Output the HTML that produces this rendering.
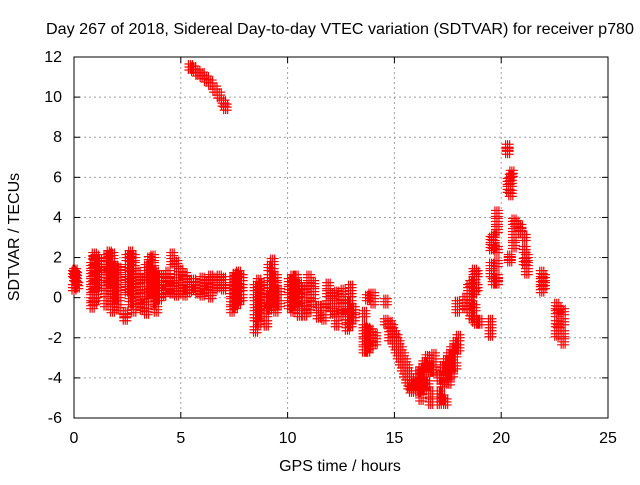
<!DOCTYPE html>
<html><head><meta charset="utf-8"><style>
body{margin:0;background:#fff}
svg text{font-family:"Liberation Sans",sans-serif;font-size:16px;fill:#000}
</style></head><body>
<svg id="chart" width="640" height="480" viewBox="0 0 640 480" xmlns="http://www.w3.org/2000/svg">
<text x="340" y="34" text-anchor="middle" textLength="588" lengthAdjust="spacingAndGlyphs">Day 267 of 2018, Sidereal Day-to-day VTEC variation (SDTVAR) for receiver p780</text>
<text x="340" y="471" text-anchor="middle">GPS time / hours</text>
<text x="19" y="237" text-anchor="middle" transform="rotate(-90 19 237)">SDTVAR / TECUs</text>
<g id="grid"></g>
<g id="axes"></g>
<g id="points"></g>
</svg>
<script>
const xTicks=[0,5,10,15,20,25];
const yTicks=[-6,-4,-2,0,2,4,6,8,10,12];
const columnTimes=[0,0.05,0.1,0.15,
0.85,0.95,1.05,1.2,1.5,1.65,1.8,1.95,2.1,2.4,
2.5,2.65,2.8,3.0,3.2,3.4,3.55,3.7,3.85,4.0,
4.2,4.4,4.6,4.8,5.0,5.2,5.4,5.6,5.8,6.0,6.2,6.4,6.6,6.8,7.0,
7.4,7.55,7.7,7.85,
5.45,5.6,5.8,6.0,6.2,6.4,6.6,6.8,7.0,7.1,
8.5,8.65,8.8,9.0,9.15,9.3,9.45,9.6,
10.1,10.25,10.4,10.55,10.8,11.0,11.2,11.45,
11.7,11.9,12.1,12.3,12.5,12.6,12.8,12.95,13.1,
13.6,13.75,13.9,14.0,14.1,
14.6,14.8,14.9,15.0,15.1,15.2,15.3,15.4,15.5,15.6,15.7,15.8,15.9,
16.1,16.25,16.4,16.55,16.7,16.85,
17.1,17.25,17.4,17.55,17.7,17.85,18.0,17.95,
18.3,18.5,18.6,18.75,18.85,19.0,19.5,
19.55,19.65,19.8,
20.3,20.35,20.45,20.5,20.4,
20.6,20.7,20.9,21.1,21.2,
21.9,22.0,
22.6,22.7,22.9];
const columnValues=[[1.2,0.5],[1.0,1.3],[0.8,1.1],[0.6],
[-0.4,0,0.4,0.8,1.2,1.6],[-0.2,0.3,0.7,1.1,1.5,1.9,2.1],[0,0.5,0.9,1.3,1.7,2.0],[0.6,1.0,1.4,1.8],[-0.3,0.2,0.6,1.0,1.5,2.0],[0.8,1.3,1.8,2.2],[-0.6,-0.2,0.3,0.8,1.3,1.8,2.1],[0,0.5,1,1.5],[-0.5,0,0.5,1.0,1.4],[-1,-0.8],
[0.4,0.9,1.5,2.0],[-0.2,0.3,0.8,1.3,1.8,2.2],[-0.6,0,0.5,1.0,1.6,2.0],[-0.3,0.2,0.7,1.2],[-0.5,-0.1,0.4,0.9],[-0.7,-0.2,0.4,1.0,1.5],[0.3,0.9,1.4,1.9],[-0.2,0.4,1.0,1.6,2.0],[-0.6,0,0.5,1.2],[0,0.5,1.0],
[0.2,0.6,1.0],[0.4,0.8,1.2],[0.3,0.7,1.8,2.1],[0.2,0.6,1.0,1.7],[0.3,0.6,1.3],[0.2,0.5,0.9,1.1],[0.4,0.8],[0.5,0.8],[0.3,0.6],[0.2,0.6,0.9],[0.4,0.7],[0.1,0.5,1.0],[0.5,0.9],[0.6,1.0],[0.5,0.9],
[-0.6,-0.2,0.2,0.6,0.9],[-0.4,0,0.4,0.8,1.1],[-0.2,0.3,0.7,1.2],[0,0.5,1.0],
[11.5],[11.4],[11.2],[11.1],[10.9],[10.7],[10.4],[10.1],[9.7],[9.5],
[-1.6,-1.0,-0.5,0,0.5],[-1.2,-0.6,-0.1,0.4,0.8],[-0.8,-0.3,0.2,0.6],[-1.3,-0.8,-0.4,0],[-0.5,0,0.5,1.0,1.5],[-0.2,0.3,0.8,1.3,1.8],[-0.6,0,0.6,1.0],[-0.3,0.3],
[-0.4,0,0.4,0.8],[-0.6,-0.2,0.2,0.6,1.0],[-0.2,0.3,0.7,1.0],[-0.8,-0.3,0.2,0.6],[-0.8,-0.4,0,0.4],[-0.6,0,0.6,1.0],[-0.2,0.3,0.7],[-0.9,-0.5],
[-1.0,-0.5],[-0.3,0.2,0.6],[-0.7,-0.3,0.1],[-1.3,-0.8,-0.3,0.2],[-0.8,-0.3],[-0.6,-0.1,0.3],[-1.5,-1.1,-0.7,-0.3],[-1.3,-0.8,-0.3,0.2,0.5],[-1.0,-0.6],
[-2.6,-2.2,-1.8,-1.5,-0.8],[-2.6,-2.3,-1.9,-1.6,0],[-2.4,-2.0,-1.7,0.1],[-0.2,0.1],[-2.2,-1.9],
[-1.2,-0.2],[-1.7,-1.3,-2.0],[-1.5,-2.0],[-1.8,-2.3],[-2.0,-2.6],[-2.3,-2.9],[-2.6,-3.2],[-2.9,-3.5],[-3.2,-3.8],[-3.5,-4.1],[-3.8,-4.4],[-4.1,-4.6],[-4.3,-4.5],
[-4.2,-3.8,-4.6],[-3.6,-4.0,-4.4,-5.0],[-3.3,-3.7,-4.1,-4.5],[-3.0,-3.4,-4.3],[-4.8,-5.2,-3.6],[-2.9,-3.2,-3.6],
[-4.0,-4.8,-5.2],[-3.5,-4.3,-5.0],[-3.2,-3.9,-5.2],[-2.9,-3.5,-4.2],[-2.6,-3.1,-3.8],[-2.3,-2.8,-3.4],[-2.0,-2.5],[-0.6,-0.3],
[-0.1,-0.4],[-0.6,-0.1,0.5,0.2],[-0.9,-0.3,0.2,0.7],[-1.1,-0.5,0.3,0.9,1.3],[-1.2,0.5,1.2],[-1.2],[-1.8,-1.5,-1.2],
[2.5,2.9,1.2,1.6],[3.0,2.6,0.8],[4.2,3.8,3.4,2.4,1.7,0.8,1.0],
[7.5,7.3],[5.8,5.4],[6.0,5.7,5.2],[6.2],[1.9,2.0],
[3.8,3.3,3.0,2.6],[3.7],[3.5,3.3],[3.0,2.4,1.8],[2.0,1.6,1.3],
[1.2,0.8,0.4],[1.0,0.6],
[-0.4,-0.8,-1.3,-1.8],[-0.6,-1.5],[-0.7,-1.2,-1.8,-2.2]];

const L=74,R=608,T=57,B=418;
const xS=t=>L+(t-0)/25*(R-L);
const yS=v=>B-(v+6)/18*(B-T);
const NS='http://www.w3.org/2000/svg';
const grid=document.getElementById('grid'),axes=document.getElementById('axes'),pts=document.getElementById('points');
function mk(tag,attrs,parent){const e=document.createElementNS(NS,tag);for(const k in attrs)e.setAttribute(k,attrs[k]);parent.appendChild(e);return e;}
xTicks.forEach(t=>{const x=xS(t);
 if(t>0&&t<25){const g=mk('line',{x1:x,x2:x,y1:T,y2:B,stroke:'#a0a0a0','stroke-dasharray':'2,3'},grid);
 
 }
 mk('line',{x1:x,x2:x,y1:B,y2:B-6,stroke:'#000'},axes);
 mk('line',{x1:x,x2:x,y1:T,y2:T+6,stroke:'#000'},axes);
 const tx=mk('text',{x:x,y:443,'text-anchor':'middle'},axes);tx.textContent=t;
 
 
});
yTicks.forEach(v=>{const y=yS(v);
 if(v>-6&&v<12){const g=mk('line',{x1:L,x2:R,y1:y,y2:y,stroke:'#a0a0a0','stroke-dasharray':'2,3'},grid);
 
 }
 mk('line',{x1:L,x2:L+6,y1:y,y2:y,stroke:'#000'},axes);
 mk('line',{x1:R,x2:R-6,y1:y,y2:y,stroke:'#000'},axes);
 const tx=mk('text',{x:62,y:y+5,'text-anchor':'end'},axes);tx.textContent=v;
 
 
});
const fr=mk('rect',{x:L,y:T,width:R-L,height:B-T,fill:'none',stroke:'#000'},axes);


let d='';
columnTimes.forEach((t,i)=>{columnValues[i].forEach(v=>{
 const x=xS(t),y=yS(v);
 for(let k=-1;k<=1;k++){for(let j=-1;j<=1;j++){const xx=x+k*2,yy=y+j*3;d+=`M${xx-4} ${yy}h8M${xx} ${yy-4}v8`;}}
});});
const p=mk('path',{d:d,stroke:'#ff0000','stroke-width':1.2,fill:'none'},pts);


</script>
</body></html>
